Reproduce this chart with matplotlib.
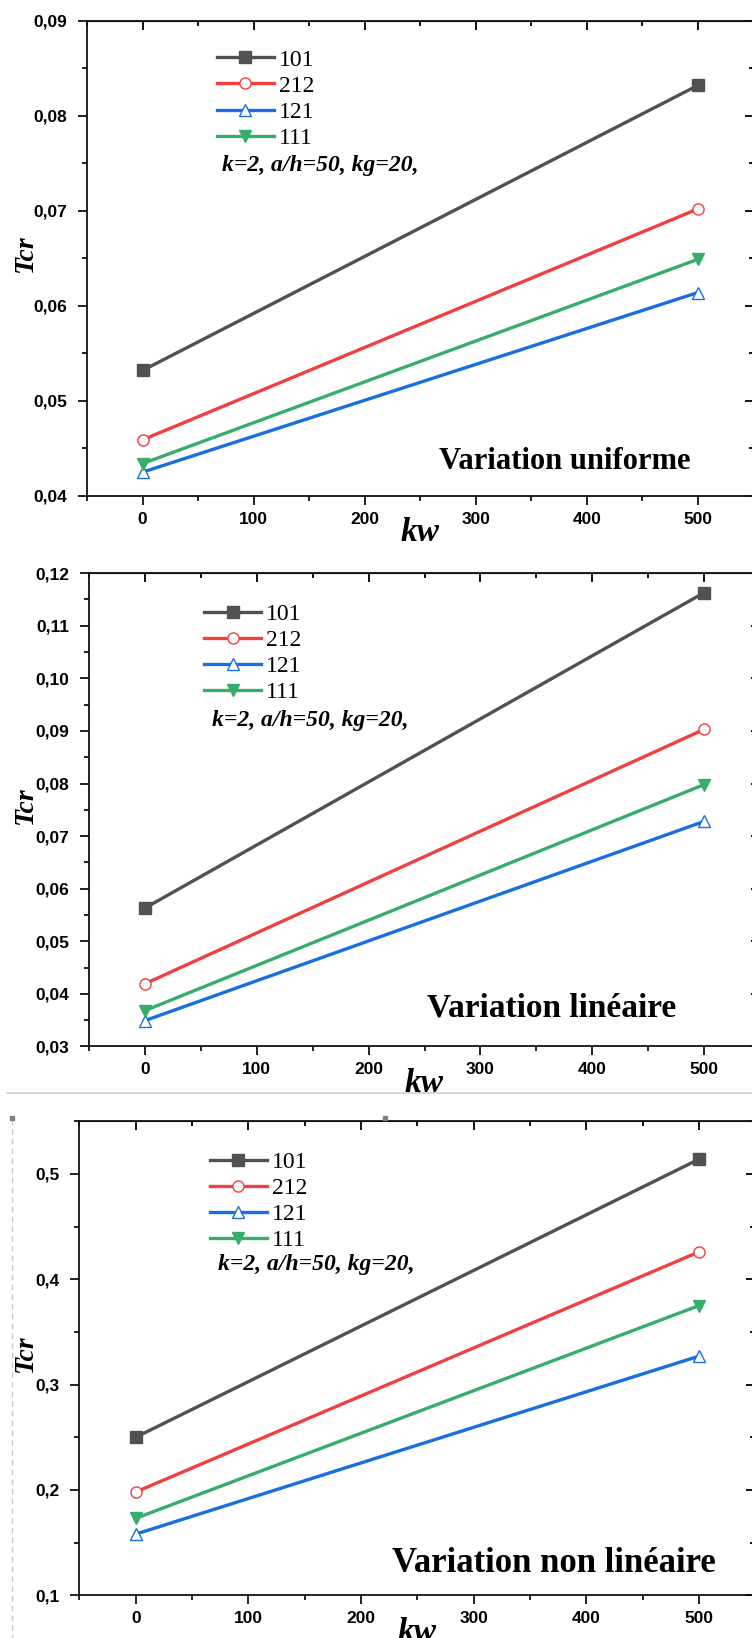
import matplotlib
matplotlib.use("Agg")
import matplotlib.pyplot as plt
from matplotlib.ticker import MultipleLocator, FuncFormatter
from matplotlib.lines import Line2D
from matplotlib.patches import Rectangle

# ---- data -------------------------------------------------------------
kw = [0, 500]
series_labels = ["101", "212", "121", "111"]

# Variation uniforme
uni_101 = [0.0532, 0.0832]
uni_212 = [0.0459, 0.0702]
uni_121 = [0.0425, 0.0614]
uni_111 = [0.0434, 0.0649]

# Variation linéaire
lin_101 = [0.0563, 0.1163]
lin_212 = [0.0419, 0.0903]
lin_121 = [0.0349, 0.0728]
lin_111 = [0.0368, 0.0798]

# Variation non linéaire
nl_101 = [0.250, 0.514]
nl_212 = [0.198, 0.426]
nl_121 = [0.158, 0.327]
nl_111 = [0.173, 0.375]

panel_titles = ["Variation uniforme", "Variation linéaire", "Variation non linéaire"]
param_text = "k=2, a/h=50, kg=20,"
x_label = "kw"
y_label = "Tcr"

# ---- styling ----------------------------------------------------------
W, H = 752, 1638
colors = ["#515151", "#F14040", "#1A6FDF", "#37AD6B"]
markers = ["s", "o", "^", "v"]
faces = ["#515151", "white", "white", "#37AD6B"]
SERIF = "Liberation Serif"
SANS = "Liberation Sans"

fig = plt.figure(figsize=(W / 100, H / 100), dpi=100)


def px_rect(left, right, top, bottom):
    return [left / W, 1 - bottom / H, (right - left) / W, (bottom - top) / H]


panels = [
    dict(rect=px_rect(87.0, 753.5, 20.7, 495.9), data=[uni_101, uni_212, uni_121, uni_111],
         ylim=(0.04, 0.09), major=0.01, minor=0.005, fmt="{:.2f}",
         leg=(0.195, 0.940), param=(0.203, 0.696), title=(0.528, 0.073), title_size=22,
         xlab_y=-0.077, z=0),
    dict(rect=px_rect(88.9, 760.1, 573.2, 1046.4), data=[lin_101, lin_212, lin_121, lin_111],
         ylim=(0.03, 0.12), major=0.01, minor=0.005, fmt="{:.2f}",
         leg=(0.172, 0.936), param=(0.183, 0.689), title=(0.503, 0.081), title_size=24,
         xlab_y=-0.078, z=0),
    dict(rect=px_rect(79.4, 755.3, 1121.3, 1595.2), data=[nl_101, nl_212, nl_121, nl_111],
         ylim=(0.10, 0.55), major=0.1, minor=0.05, fmt="{:.1f}",
         leg=(0.193, 0.936), param=(0.205, 0.697), title=(0.463, 0.066), title_size=25,
         xlab_y=-0.078, z=2),
]

for i, p in enumerate(panels):
    ax = fig.add_axes(p["rect"], zorder=p["z"])
    ax.set_facecolor("white")
    handles = []
    for vals, lab, c, m, fc in zip(p["data"], series_labels, colors, markers, faces):
        (h,) = ax.plot(kw, vals, color=c, lw=2.4, marker=m, markersize=8,
                       markerfacecolor=fc, markeredgecolor=c, markeredgewidth=1.0,
                       label=lab, clip_on=False, zorder=3)
        handles.append(h)

    ax.set_xlim(-50, 550)
    ax.set_ylim(*p["ylim"])
    ax.xaxis.set_major_locator(MultipleLocator(100))
    ax.xaxis.set_minor_locator(MultipleLocator(50))
    ax.yaxis.set_major_locator(MultipleLocator(p["major"]))
    ax.yaxis.set_minor_locator(MultipleLocator(p["minor"]))
    f = p["fmt"]
    ax.yaxis.set_major_formatter(FuncFormatter(lambda v, pos, f=f: f.format(v).replace(".", ",")))
    ax.xaxis.set_major_formatter(FuncFormatter(lambda v, pos: f"{v:.0f}"))

    for s in ax.spines.values():
        s.set_linewidth(1.3)
        s.set_color("#111111")
    ax.tick_params(which="major", direction="out", length=6.5, width=1.3, color="#111111",
                   labelsize=12.5)
    ax.tick_params(which="minor", direction="out", length=3.5, width=1.3, color="#111111")
    ax.tick_params(axis="x", which="major", pad=5)
    ax.tick_params(axis="y", which="major", pad=7.5)
    for t in ax.get_xticklabels() + ax.get_yticklabels():
        t.set_fontfamily(SANS)
        t.set_fontweight("bold")

    # mirrored inward ticks on top and right
    top = ax.secondary_xaxis("top")
    top.xaxis.set_major_locator(MultipleLocator(100))
    top.xaxis.set_minor_locator(MultipleLocator(50))
    top.tick_params(which="major", direction="in", length=6.5, width=1.3, labeltop=False)
    top.tick_params(which="minor", direction="in", length=3.5, width=1.3)
    right = ax.secondary_yaxis("right")
    right.yaxis.set_major_locator(MultipleLocator(p["major"]))
    right.yaxis.set_minor_locator(MultipleLocator(p["minor"]))
    right.tick_params(which="major", direction="in", length=6.5, width=1.3, labelright=False)
    right.tick_params(which="minor", direction="in", length=3.5, width=1.3)

    ax.set_xlabel(x_label, fontfamily=SERIF, fontstyle="italic", fontweight="bold", fontsize=24)
    ax.xaxis.set_label_coords(0.5, p["xlab_y"])
    ax.xaxis.label.set_va("center")
    ax.set_ylabel(y_label, fontfamily=SERIF, fontstyle="italic", fontweight="bold", fontsize=20)
    ax.yaxis.set_label_coords(-(p["rect"][0] * W - 25) / (p["rect"][2] * W), 0.51)
    ax.yaxis.label.set_va("center")

    ax.legend(handles=handles, loc="upper left", bbox_to_anchor=p["leg"], frameon=False,
              prop=dict(family=SERIF, size=17), handlelength=2.4, handletextpad=0.22,
              labelspacing=0.19, borderaxespad=0, borderpad=0, numpoints=1)

    ax.text(p["param"][0], p["param"][1], param_text, transform=ax.transAxes,
            fontfamily=SERIF, fontstyle="italic", fontweight="bold", fontsize=17,
            ha="left", va="center")
    ax.text(p["title"][0], p["title"][1], panel_titles[i], transform=ax.transAxes,
            fontfamily=SERIF, fontweight="bold", fontsize=p["title_size"],
            ha="left", va="center")

# page break between the second and third captures
fig.patches.append(Rectangle((0, 0), 1, 1 - 1093 / H, transform=fig.transFigure,
                             facecolor="white", edgecolor="none", zorder=1))
fig.add_artist(Line2D([7 / W, 1], [1 - 1093 / H] * 2, color="#d4d4d4", lw=1.3, zorder=1.5))
fig.add_artist(Line2D([12 / W, 12 / W], [1 - 1119 / H, 0], color="#c8c8c8", lw=1.0,
                      ls=(0, (4, 3)), zorder=1.5))
fig.add_artist(Line2D([12 / W], [1 - 1118 / H], marker="s", markersize=3, color="#808080",
                      lw=0, zorder=1.5))
fig.add_artist(Line2D([385 / W], [1 - 1118 / H], marker="s", markersize=3.5, color="#808080",
                      lw=0, zorder=3))

fig.savefig("out.png", dpi=100, facecolor="white")
